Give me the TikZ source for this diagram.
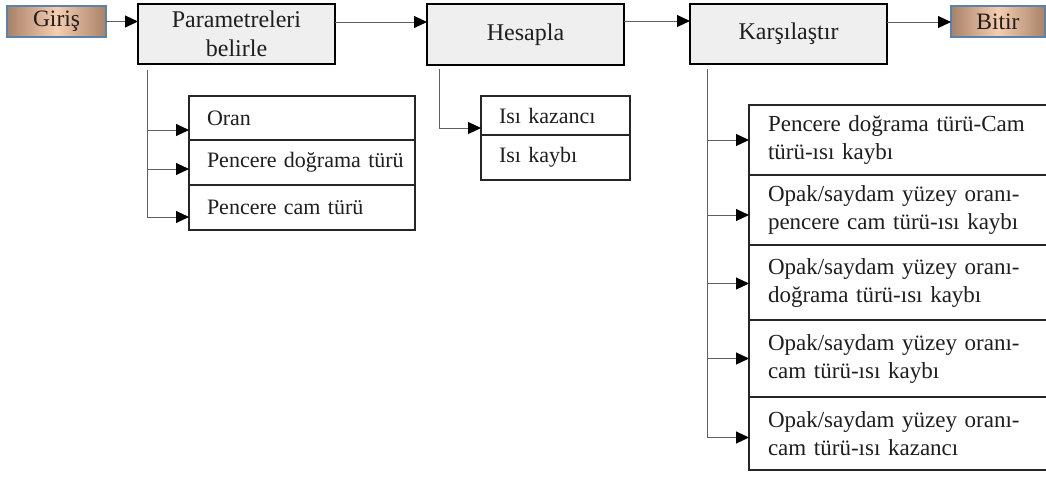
\documentclass[tikz,border=0pt]{standalone}
\usepackage{fontspec}
\setmainfont{Liberation Serif}
\usetikzlibrary{arrows.meta,calc}
\definecolor{termedge}{HTML}{A88268}
\definecolor{termmid}{HTML}{F5CDB0}
\definecolor{termline}{HTML}{5A82AA}
\definecolor{boxfill}{HTML}{EFEFEF}
\definecolor{connline}{HTML}{606060}
\definecolor{txt}{HTML}{1E1E1E}
\begin{document}
\begin{tikzpicture}[x=1pt,y=1pt,
  mainbox/.style={draw=black, line width=1.6pt, fill=boxfill, minimum width=197pt, minimum height=60pt,
    inner sep=0pt, outer sep=0pt, anchor=north west, align=center, text=txt,
    font=\fontsize{24}{29}\selectfont},
  termbox/.style={draw=termline, line width=1.4pt, left color=termedge, right color=termedge, middle color=termmid,
    minimum height=31pt, inner sep=0pt, outer sep=0pt, anchor=north west, text=txt,
    font=\fontsize{23.5}{28}\selectfont},
  subbox/.style={draw=black!85, line width=1.4pt, fill=white, inner xsep=18pt, inner ysep=0pt, outer sep=0pt,
    anchor=north west, align=left, text=txt, font=\fontsize{22}{27}\selectfont},
  rsubbox/.style={subbox, inner xsep=19pt, text width=290pt, font=\fontsize{23}{28}\selectfont},
  conn/.style={draw=connline, line width=1pt},
  arr/.style={conn, -{Triangle[length=13pt,width=12pt,color=black]}}
]
\useasboundingbox (0,0) rectangle (1046,-477);

% main row
\node[termbox, minimum width=99pt] (giris) at (7,-6) {Giriş};
\node[mainbox] (param) at (138,-4) {Parametreleri\\belirle};
\node[mainbox, minimum height=61pt] (hesapla) at (427,-4) {Hesapla};
\node[mainbox] (karsi) at (690,-4) {Karşılaştır};
\node[termbox, minimum width=94pt] (bitir) at (951,-6) {Bitir};

% left sub boxes
\node[subbox, text width=190pt, minimum height=44pt] (oran) at (189,-96) {\mbox{Oran}};
\node[subbox, text width=190pt, minimum height=45pt] (dograma) at (189,-140) {\mbox{Pencere doğrama türü}};
\node[subbox, text width=190pt, minimum height=45pt] (camturu) at (189,-185) {\mbox{Pencere cam türü}};

% middle sub boxes
\node[subbox, text width=113pt, minimum height=39pt] (kazanc) at (481,-96) {\mbox{Isı kazancı}};
\node[subbox, text width=113pt, minimum height=45pt] (kayip) at (481,-135) {\mbox{Isı kaybı}};

% right sub boxes
\node[rsubbox, minimum height=70pt] (r1) at (749,-105) {Pencere doğrama türü-Cam\\türü-ısı kaybı};
\node[rsubbox, minimum height=70pt] (r2) at (749,-175) {Opak/saydam yüzey oranı-\\pencere cam türü-ısı kaybı};
\node[rsubbox, minimum height=75pt] (r3) at (749,-245) {Opak/saydam yüzey oranı-\\doğrama türü-ısı kaybı};
\node[rsubbox, minimum height=77pt] (r4) at (749,-320) {Opak/saydam yüzey oranı-\\cam türü-ısı kaybı};
\node[rsubbox, minimum height=73pt] (r5) at (749,-397) {Opak/saydam yüzey oranı-\\cam türü-ısı kazancı};

% main row arrows
\draw[arr] (giris.east) -- (giris.east -| param.west);
\coordinate (pa) at ($(param.north east)+(0,-18)$);
\draw[arr] (pa) -- (pa -| hesapla.west);
\coordinate (ha) at ($(hesapla.north east)+(0,-17)$);
\draw[arr] (ha) -- (ha -| karsi.west);
\coordinate (ka) at ($(karsi.north east)+(0,-18)$);
\draw[arr] (ka) -- (ka -| bitir.west);

% left branch
\coordinate (ltop) at ($(param.south west)+(9,-6)$);
\coordinate (la1) at ($(oran.south west)+(0,10)$);
\coordinate (la2) at ($(dograma.south west)+(0,16)$);
\coordinate (la3) at ($(camturu.south west)+(0,13)$);
\draw[conn] (ltop) -- (ltop |- la3);
\draw[arr] (ltop |- la1) -- (la1);
\draw[arr] (ltop |- la2) -- (la2);
\draw[arr] (ltop |- la3) -- (la3);

% middle branch
\coordinate (mtop) at ($(hesapla.south west)+(12,-4)$);
\coordinate (ma1) at ($(kazanc.south west)+(0,7)$);
\draw[arr] (mtop) -- (mtop |- ma1) -- (ma1);

% right branch
\coordinate (rtop) at ($(karsi.south west)+(17,-5)$);
\coordinate (ra1) at ($(r1.west)+(0,0)$);
\coordinate (ra2) at ($(r2.west)+(0,-5)$);
\coordinate (ra3) at ($(r3.west)+(0,-1)$);
\coordinate (ra4) at ($(r4.west)+(0,0)$);
\coordinate (ra5) at ($(r5.west)+(0,-4)$);
\draw[conn] (rtop) -- (rtop |- ra5);
\draw[arr] (rtop |- ra1) -- (ra1);
\draw[arr] (rtop |- ra2) -- (ra2);
\draw[arr] (rtop |- ra3) -- (ra3);
\draw[arr] (rtop |- ra4) -- (ra4);
\draw[arr] (rtop |- ra5) -- (ra5);
\end{tikzpicture}
\end{document}
